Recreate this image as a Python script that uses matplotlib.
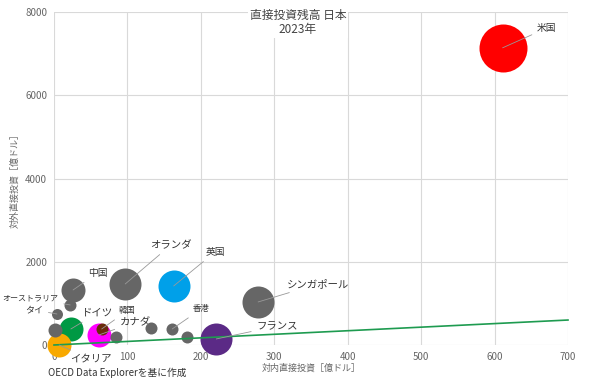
import matplotlib.pyplot as plt

plt.rcParams['font.family'] = ['Noto Sans CJK JP', 'DejaVu Sans']

# データ
names = ['米国', 'オランダ', '英国', 'シンガポール', 'フランス', '中国', 'ドイツ', 'カナダ',
         'イタリア', 'オーストラリア', 'タイ', '韓国', '香港', '', '', '', '']
inward = [611, 97, 163, 278, 221, 26, 23, 61, 7, 22, 4, 65, 161, 2, 84, 132, 181]
outward = [7140, 1466, 1418, 1034, 145, 1322, 385, 240, 0, 962, 745, 385, 385, 360, 190, 400, 190]
bubble = [24, 16, 16, 16, 16, 12, 12, 12, 12, 6, 5.5, 6, 6, 7, 6, 6, 6]
colors = ['#FF0000', '#666666', '#00A0E9', '#666666', '#5B2A86', '#666666', '#009944', '#FF00FF',
          '#F8A900', '#666666', '#666666', '#6B2B0C', '#666666', '#666666', '#666666', '#666666', '#666666']
# ラベル位置
label_x = [658, 131, 206, 317, 276, 46, 38, 90, 22, 6, -15, 88, 189]
label_y = [7615, 2402, 2234, 1465, 456, 1730, 769, 553, -336, 1129, 841, 817, 865]
label_ha = ['left'] * 9 + ['right', 'right', 'left', 'left']
label_fs = [7, 7.5, 7, 7.5, 7.5, 7, 7.5, 7.5, 7.5, 5.8, 6.5, 6, 6]

line_x = [0, 700]
line_y = [0, 600]

fig = plt.figure(figsize=(5.9, 3.85), dpi=100)
ax = fig.add_axes([0.0915, 0.1039, 0.8712, 0.8649])

ax.set_xlim(0, 700)
ax.set_ylim(0, 8000)
ax.set_xticks(range(0, 701, 100))
ax.set_yticks(range(0, 8001, 2000))
ax.grid(True, color='#D9D9D9', lw=0.8)
ax.set_axisbelow(True)
for s in ax.spines.values():
    s.set_visible(False)
ax.tick_params(length=0, labelsize=7, colors='#666666', pad=5)

# バブル
sizes = [(1.44 * r) ** 2 for r in bubble]
for i in range(len(inward)):
    ax.scatter(inward[i], outward[i], s=sizes[i], color=colors[i], zorder=3,
               clip_on=False, linewidths=0)

ax.plot(line_x, line_y, color='#1E9B50', lw=1.2, zorder=4, clip_on=False)

for i in range(len(label_x)):
    ax.annotate(names[i], xy=(inward[i], outward[i]), xytext=(label_x[i], label_y[i]),
                textcoords='data', ha=label_ha[i], va='center', fontsize=label_fs[i],
                color='#333333', zorder=6, annotation_clip=False,
                arrowprops=dict(arrowstyle='-', color='#999999', lw=0.6,
                                shrinkA=2, shrinkB=0))

ax.set_xlabel('対内直接投資［億ドル］', fontsize=6.5, color='#666666', labelpad=1)
ax.set_ylabel('対外直接投資［億ドル］', fontsize=6.5, color='#666666', labelpad=4)

fig.text(0.505, 0.941, '直接投資残高 日本\n2023年', ha='center', va='center', fontsize=8.5,
         color='#444444', linespacing=1.1,
         bbox=dict(facecolor='white', edgecolor='none', pad=1))
fig.text(0.082, 0.018, 'OECD Data Explorerを基に作成', ha='left', va='bottom',
         fontsize=7, color='#333333')

fig.savefig('out.png', dpi=100)
